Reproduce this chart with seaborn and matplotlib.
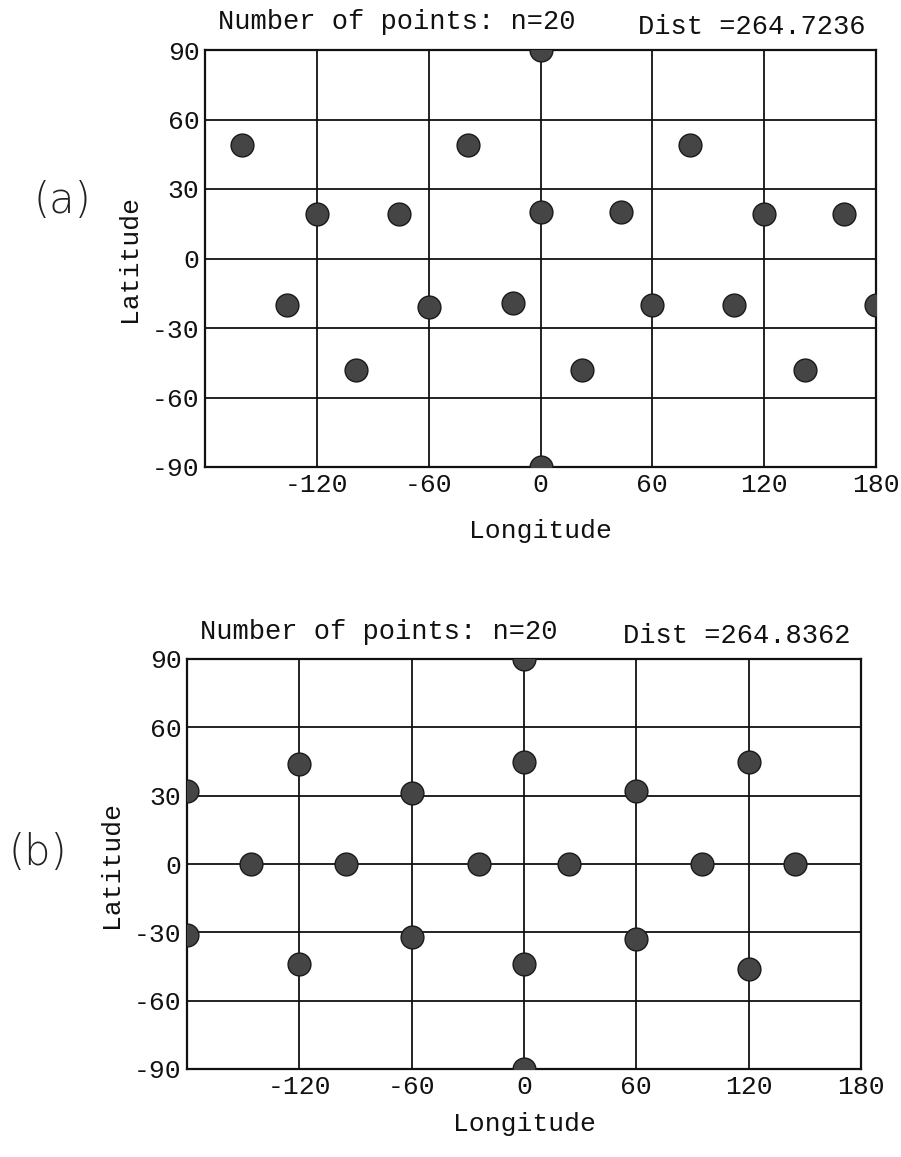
import matplotlib
matplotlib.use("Agg")
import matplotlib.pyplot as plt
import seaborn as sns
import pandas as pd

# ---- data ----
lon_a = [-160, -120, -76, -136, -60, -99, 0, -39, 0, 43, 80, 120, 163, -15, 60, 104, 180, 22, 142, 0]
lat_a = [49, 19, 19, -20, -21, -48, 90, 49, 20, 20, 49, 19, 19, -19, -20, -20, -20, -48, -48, -90]
lon_b = [-120, -180, -60, -146, -95, -180, -120, -60, 0, 0, 120, 60, -24, 24, 95, 145, 0, 60, 120, 0]
lat_b = [44, 32, 31, 0, 0, -31, -44, -32, 90, 45, 45, 32, 0, 0, 0, 0, -44, -33, -46, -90]
n_points = [20, 20]
dists = ["264.7236", "264.8362"]
panel_tags = ["(a)", "(b)"]
xticks = [-180, -120, -60, 0, 60, 120, 180]
xtick_labels = ["", "-120", "-60", "0", "60", "120", "180"]
yticks = [-90, -60, -30, 0, 30, 60, 90]
ytick_labels = ["-90", "-60", "-30", "0", "30", "60", "90"]

sns.set_theme(style="white")
plt.rcParams['font.family'] = ['Liberation Mono', 'DejaVu Sans Mono']

fig = plt.figure(figsize=(9.01, 11.57), dpi=100)
rects = [[205/901, 1-467/1157, 671/901, 417/1157],
         [187/901, 1-1069/1157, 674/901, 410/1157]]
tag_pos = [(62/901, 1-200/1157), (38/901, 1-852/1157)]
xlabel_pads = [16, 10]
datasets = [(lon_a, lat_a), (lon_b, lat_b)]

for i, (rect, (lo, la)) in enumerate(zip(rects, datasets)):
    ax = fig.add_axes(rect)
    df = pd.DataFrame({"Longitude": lo, "Latitude": la})
    sns.scatterplot(data=df, x="Longitude", y="Latitude", ax=ax, s=270,
                    color="#454545", edgecolor="#1a1a1a", linewidth=1.0, zorder=3)
    ax.set_xlim(-180, 180)
    ax.set_ylim(-90, 90)
    ax.set_xticks(xticks)
    ax.set_xticklabels(xtick_labels)
    ax.set_yticks(yticks)
    ax.set_yticklabels(ytick_labels)
    ax.tick_params(axis='both', length=0, labelsize=19, colors='#111111', pad=4)
    ax.grid(True, color='#111111', linewidth=1.3)
    ax.set_axisbelow(True)
    for sp in ax.spines.values():
        sp.set_visible(True)
        sp.set_color('#111111')
        sp.set_linewidth(1.6)
    ax.set_xlabel("Longitude", fontsize=19, color='#111111', labelpad=xlabel_pads[i])
    ax.set_ylabel("Latitude", fontsize=19, color='#111111', labelpad=8)
    ax.text(0.02, 1.035, f"Number of points: n={n_points[i]}", transform=ax.transAxes,
            fontsize=19.5, color='#111111', ha='left', va='bottom')
    ax.text(0.985, 1.025, f"Dist ={dists[i]}", transform=ax.transAxes,
            fontsize=19.5, color='#111111', ha='right', va='bottom')
    fig.text(tag_pos[i][0], tag_pos[i][1], panel_tags[i], fontsize=30,
             family=['DejaVu Sans'], fontweight='light', color='#222222',
             ha='center', va='center')

fig.savefig("out.png", dpi=100, facecolor='white')
